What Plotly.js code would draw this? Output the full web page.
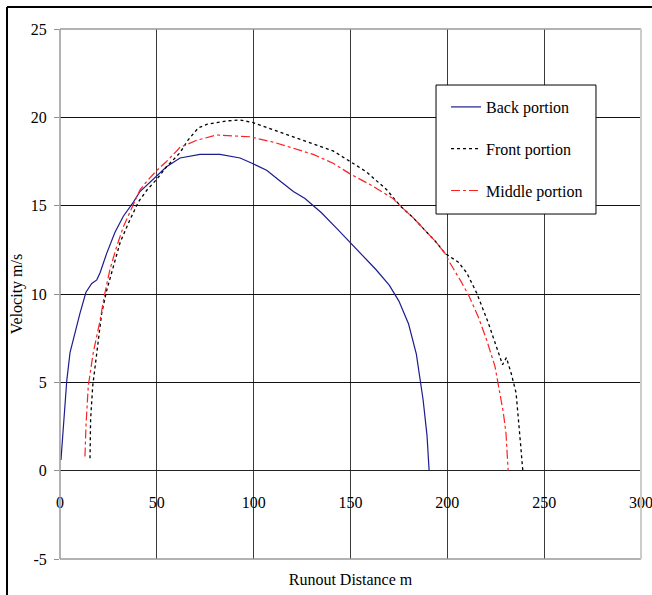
<!DOCTYPE html>
<html>
<head>
<meta charset="utf-8">
<script src="https://cdn.plot.ly/plotly-3.0.1.min.js"></script>
<style>
  html, body { margin: 0; padding: 0; background: #fff; }
  #chart { width: 652px; height: 595px; }
</style>
</head>
<body>
<div id="chart"></div>
<script>
// ---- Data ----
const seriesNames = ["Back portion", "Front portion", "Middle portion"];

const backX = [0.5, 1.7, 3.5, 5.2, 7.7, 10.3, 13.4, 16.4, 19, 20.7, 24.1, 28.4, 32.7, 37.9, 41.3, 46, 50, 55, 62, 72.3, 82.6, 93, 99.7, 106.7, 113.6, 120.5, 126.5, 135, 143, 150, 157, 163, 170, 175, 180, 184, 187.5, 189.5, 190.6];
const backY = [0.6, 2.5, 5.1, 6.7, 7.8, 8.9, 10.1, 10.6, 10.8, 11.2, 12.3, 13.5, 14.4, 15.2, 15.8, 16.3, 16.7, 17.2, 17.7, 17.9, 17.9, 17.7, 17.37, 17.0, 16.4, 15.8, 15.4, 14.6, 13.7, 12.9, 12.1, 11.4, 10.5, 9.6, 8.3, 6.6, 4.0, 2.0, 0];

const frontX = [15.5, 15.8, 16.9, 18.9, 21.5, 24.1, 27.5, 31, 35.3, 40.4, 45, 50, 55, 62, 66, 71.4, 75.8, 86, 93, 99.7, 110, 120.4, 130.7, 141, 149.8, 158.4, 168.7, 175.6, 182.5, 189.4, 194.5, 198.8, 201.4, 205.7, 210, 215.2, 221.2, 226.5, 228.5, 230.5, 233, 235.5, 236.7, 237.9, 238.8, 239];
const frontY = [0.7, 2.9, 4.8, 6.7, 8.9, 10.2, 11.5, 12.9, 14.0, 15.2, 15.9, 16.5, 17.2, 18.0, 18.7, 19.4, 19.6, 19.8, 19.85, 19.7, 19.3, 18.9, 18.5, 18.1, 17.5, 16.9, 15.9, 15.0, 14.3, 13.5, 12.9, 12.3, 12.1, 11.8, 11.2, 10.05, 8.35, 6.6, 6.0, 6.4, 5.5, 4.4, 3.1, 1.4, 0.2, 0];

const middleX = [12.9, 13.4, 14.6, 17.2, 20.7, 22.7, 25.8, 29.3, 32.7, 37, 41.3, 45, 50, 55, 62, 70.6, 80.9, 98, 110, 120.5, 130.8, 141, 149.8, 160, 172, 175.6, 182.5, 189.4, 194.5, 198.8, 201.4, 206.6, 210.9, 216, 220.3, 224.6, 227.2, 228.9, 230.3, 231.2, 231.4];
const middleY = [0.8, 2.5, 4.8, 6.7, 8.5, 9.8, 11.4, 12.7, 13.8, 14.9, 15.9, 16.4, 17.0, 17.5, 18.3, 18.7, 19.0, 18.9, 18.6, 18.25, 17.9, 17.4, 16.8, 16.2, 15.4, 15.0, 14.3, 13.5, 12.9, 12.3, 11.75, 10.8, 9.95, 8.7, 7.4, 5.9, 4.4, 3.3, 2.1, 0.4, 0];

const xTicks = [0, 50, 100, 150, 200, 250, 300];
const yTicks = [-5, 0, 5, 10, 15, 20, 25];

const serif = "Liberation Serif";

const traces = [
  { x: backX, y: backY, name: seriesNames[0], legendgroup: "a", mode: "lines",
    line: { color: "#1c1c8f", width: 1.2, dash: "solid" } },
  { x: frontX, y: frontY, name: seriesNames[1], legendgroup: "b", mode: "lines",
    line: { color: "#000000", width: 1.3, dash: "dot" } },
  { x: middleX, y: middleY, name: seriesNames[2], legendgroup: "c", mode: "lines",
    line: { color: "#ff2020", width: 1.2, dash: "dashdot" } }
];

const layout = {
  width: 652, height: 595,
  margin: { l: 60, r: 11, t: 29, b: 36, pad: 0 },
  paper_bgcolor: "#ffffff",
  plot_bgcolor: "#ffffff",
  font: { family: serif, size: 16, color: "#000" },
  showlegend: true,
  legend: {
    x: 0.6644, y: 0.8849, xanchor: "left", yanchor: "top",
    bgcolor: "rgba(0,0,0,0)", borderwidth: 0,
    font: { family: serif, size: 16, color: "#000" },
    tracegroupgap: 18,
    itemwidth: 30
  },
  xaxis: {
    range: [0, 300],
    tickvals: xTicks,
    ticktext: xTicks.map(String),
    anchor: "free", position: 1 / 6,
    showline: false,
    ticks: "",
    ticklabelstandoff: 20,
    ticklabeloverflow: "allow",
    showgrid: true, gridcolor: "#3a3a3a", gridwidth: 1,
    zeroline: false,
    tickfont: { family: serif, size: 16, color: "#000" },
    title: { text: "Runout Distance m", font: { family: serif, size: 16, color: "#000" }, standoff: 64 },
    fixedrange: true
  },
  yaxis: {
    range: [-5, 25],
    tickvals: yTicks,
    ticktext: yTicks.map(String),
    ticks: "outside", ticklen: 5, tickcolor: "#909090", tickwidth: 1,
    ticklabelstandoff: 4,
    showgrid: true, gridcolor: "#111111", gridwidth: 1,
    zeroline: true, zerolinecolor: "#222222", zerolinewidth: 1,
    showline: false,
    ticklabeloverflow: "allow",
    tickfont: { family: serif, size: 16, color: "#000" },
    title: { text: "Velocity m/s", font: { family: serif, size: 16, color: "#000" }, standoff: 4 },
    fixedrange: true
  },
  shapes: [
    // plot area border
    { type: "line", xref: "paper", yref: "paper", x0: 0, x1: 0, y0: 0, y1: 1, line: { color: "#999999", width: 1.5 }, layer: "above" },
    { type: "line", xref: "paper", yref: "paper", x0: 0, x1: 1, y0: 1, y1: 1, line: { color: "#999999", width: 1.5 }, layer: "above" },
    { type: "line", xref: "paper", yref: "paper", x0: 0, x1: 1, y0: 0, y1: 0, line: { color: "#999999", width: 1.5 }, layer: "above" },
    { type: "line", xref: "paper", yref: "paper", x0: 1, x1: 1, y0: 0, y1: 1, line: { color: "#cccccc", width: 2 }, layer: "above" },
    // legend box
    { type: "rect", xref: "paper", yref: "paper", x0: 0.6472, x1: 0.9225, y0: 0.6509, y1: 0.8943,
      fillcolor: "#ffffff", line: { color: "#000000", width: 1 }, layer: "above" },
    // outer frame (left and top visible)
    { type: "line", xref: "paper", yref: "paper", x0: -0.0912, x1: -0.0912, y0: -0.2, y1: 1.0415, line: { color: "#000000", width: 2 }, layer: "above" },
    { type: "line", xref: "paper", yref: "paper", x0: -0.0912, x1: 1.1, y0: 1.0415, y1: 1.0415, line: { color: "#000000", width: 2 }, layer: "above" }
  ]
};

Plotly.newPlot("chart", traces, layout, { displayModeBar: false, staticPlot: true });
</script>
</body>
</html>
